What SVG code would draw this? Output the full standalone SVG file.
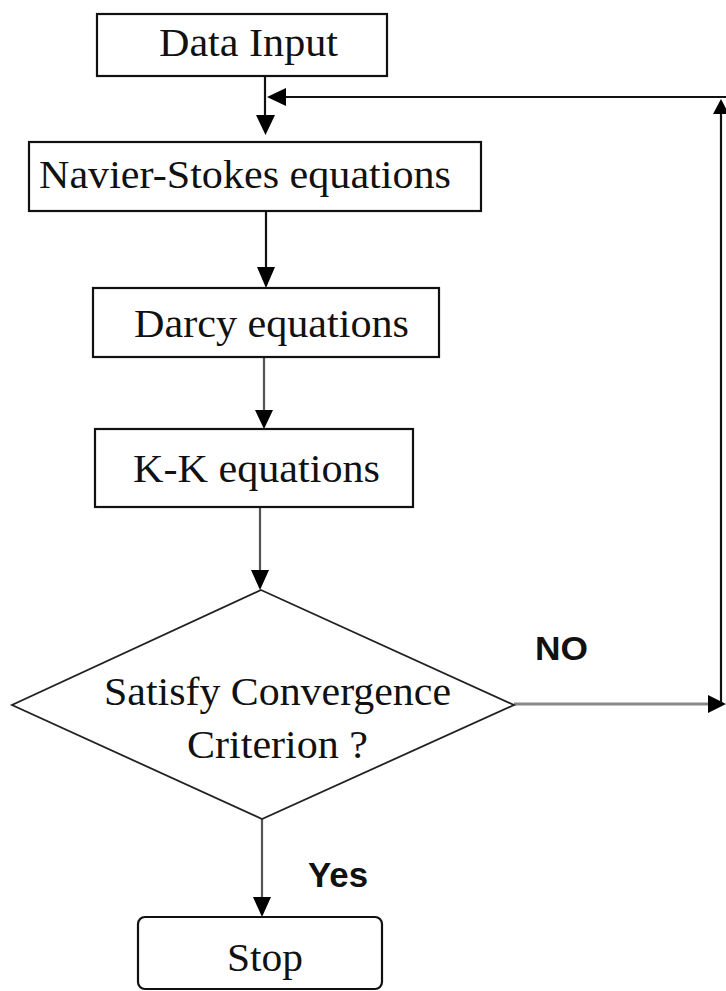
<svg xmlns="http://www.w3.org/2000/svg" width="726" height="991" viewBox="0 0 726 991">
  <defs>
    <style>
      .box { fill: #fff; stroke: #111; stroke-width: 2.2; }
      .lbl { font-family: "Liberation Serif", "Times New Roman", serif; font-size: 41px; fill: #111; }
      .tag { font-family: "Liberation Sans", Arial, sans-serif; font-weight: bold; fill: #111; }
      .ln { fill: none; stroke: #111; stroke-width: 2.2; }
      .lng { fill: none; stroke: #555; stroke-width: 2.2; }
      .ah { fill: #000; }
    </style>
  </defs>
  <rect width="726" height="991" fill="#fff"/>

  <g id="connectors">
    <line class="ln" x1="265" y1="77" x2="265" y2="120"/>
    <polygon class="ah" points="256,115 275,115 265.5,135"/>
    <line class="ln" x1="266" y1="211" x2="266" y2="270"/>
    <polygon class="ah" points="257,267 275,267 266,288"/>
    <line class="lng" x1="264" y1="357" x2="264" y2="412"/>
    <polygon class="ah" points="255,410 273,410 264,429"/>
    <line class="lng" x1="260" y1="507" x2="260" y2="572"/>
    <polygon class="ah" points="251,570 269,570 260,590"/>
    <line class="lng" x1="262" y1="819" x2="262" y2="900"/>
    <polygon class="ah" points="253,897 271,897 262,917"/>
    <line x1="514" y1="704" x2="712" y2="704" stroke="#888" stroke-width="3"/>
    <polygon class="ah" points="708,695 726,704 708,713"/>
    <line class="ln" x1="721" y1="703" x2="721" y2="110"/>
    <polygon class="ah" points="713,114 721,99 729,114"/>
    <line class="ln" x1="726" y1="97" x2="282" y2="97"/>
    <polygon class="ah" points="286,88 267,97 286,106"/>
    <text class="tag" x="535" y="660" font-size="33" textLength="53" lengthAdjust="spacingAndGlyphs">NO</text>
    <text class="tag" x="308" y="887" font-size="35" textLength="60" lengthAdjust="spacingAndGlyphs">Yes</text>
  </g>

  <g id="data-input">
    <rect class="box" x="97" y="14" width="290" height="62"/>
    <text class="lbl" x="159" y="56" textLength="179" lengthAdjust="spacingAndGlyphs">Data Input</text>
  </g>
  <g id="navier-stokes">
    <rect class="box" x="29" y="142" width="452" height="69"/>
    <text class="lbl" x="39" y="188" textLength="412" lengthAdjust="spacingAndGlyphs">Navier-Stokes equations</text>
  </g>
  <g id="darcy">
    <rect class="box" x="93" y="288" width="346" height="69"/>
    <text class="lbl" x="134" y="337" textLength="275" lengthAdjust="spacingAndGlyphs">Darcy equations</text>
  </g>
  <g id="kk">
    <rect class="box" x="95" y="429" width="318" height="78"/>
    <text class="lbl" x="133" y="482" textLength="247" lengthAdjust="spacingAndGlyphs">K-K equations</text>
  </g>
  <g id="decision">
    <polygon points="261,590 514,705 262,819 12,705" fill="#fff" stroke="#222" stroke-width="1.8"/>
    <text class="lbl" x="104" y="705" textLength="347" lengthAdjust="spacingAndGlyphs">Satisfy Convergence</text>
    <text class="lbl" x="187" y="758" textLength="181" lengthAdjust="spacingAndGlyphs">Criterion ?</text>
  </g>
  <g id="stop">
    <rect class="box" x="138" y="917" width="244" height="72" rx="7" ry="7"/>
    <text class="lbl" x="227" y="971" textLength="76" lengthAdjust="spacingAndGlyphs">Stop</text>
  </g>
</svg>
